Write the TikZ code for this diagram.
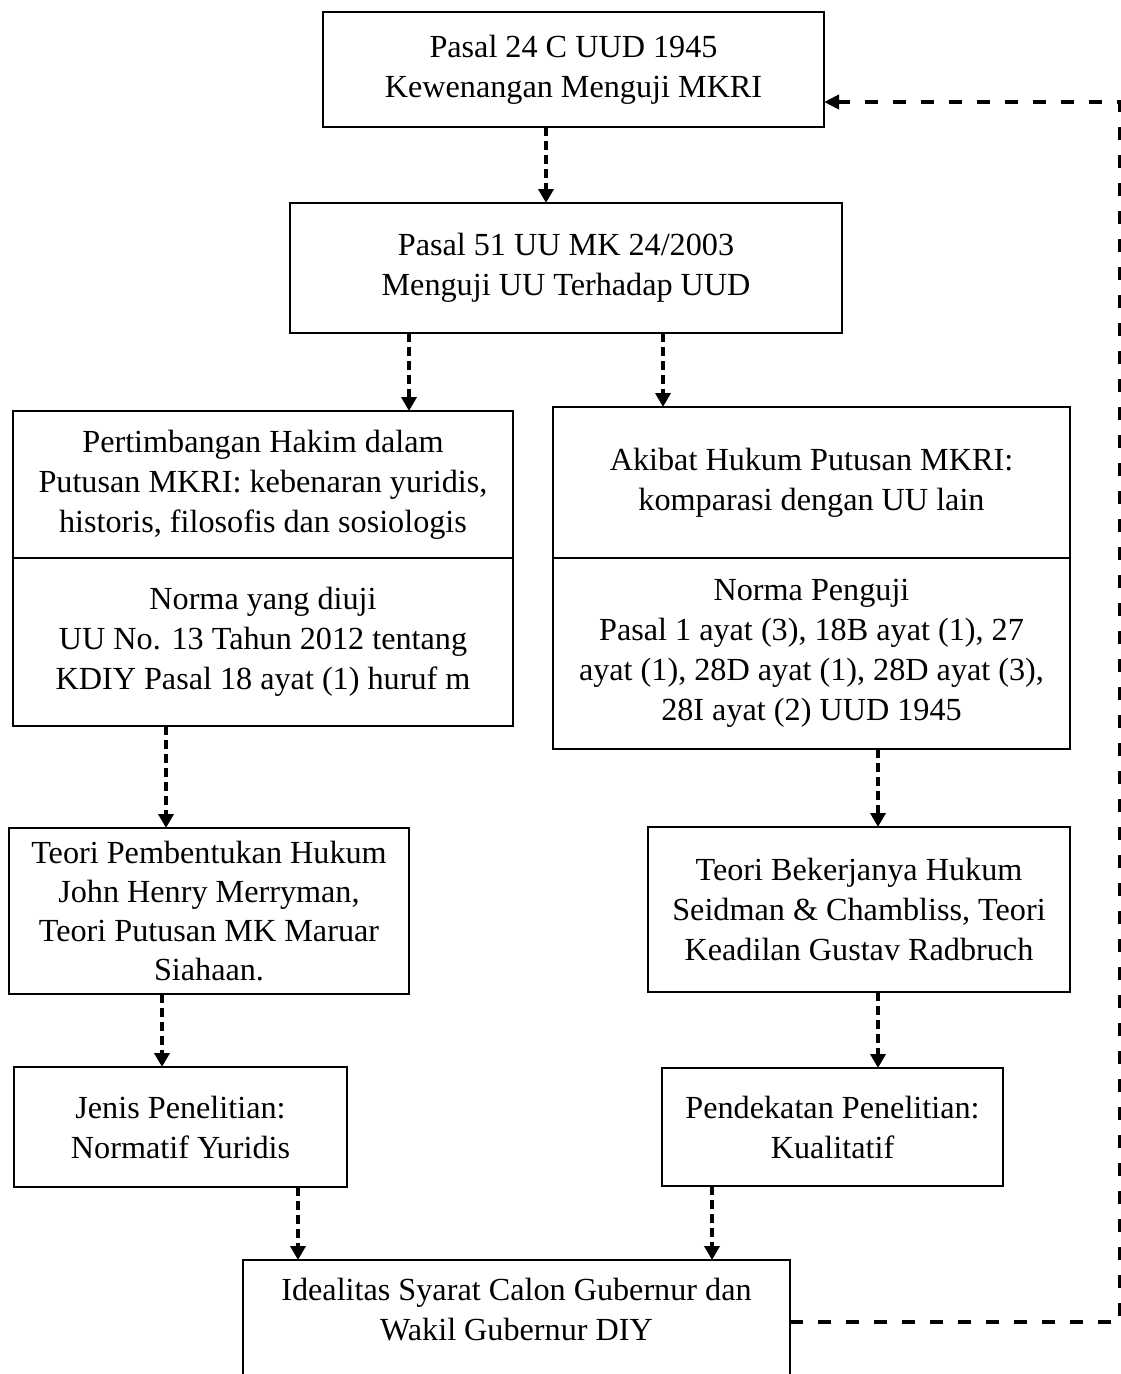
\documentclass[tikz,border=0pt]{standalone}
\usepackage{fontspec}
\setmainfont{Liberation Serif}
\usetikzlibrary{arrows.meta,positioning}

\begin{document}
\begin{tikzpicture}[
  x=1pt, y=-1pt,
  font=\fontsize{32.2}{40}\selectfont,
  box/.style={draw, line width=2pt, align=center, inner sep=0pt, outer sep=0pt},
  flow/.style={-{Triangle[length=14pt,width=15pt]}, line width=4pt, dash pattern=on 9pt off 5pt},
  back/.style={-{Triangle[length=15pt,width=14pt]}, line width=4pt, dash pattern=on 13pt off 15pt}
]
\useasboundingbox (0,0) rectangle (1121,1374);

\node[box, minimum width=501pt, minimum height=115pt] (pasal24) at (573.5,69.5) {Pasal 24 C UUD 1945\\Kewenangan Menguji MKRI};
\node[box, minimum width=552pt, minimum height=130pt] (pasal51) at (566,268) {Pasal 51 UU MK 24/2003\\Menguji UU Terhadap UUD};

% left column
\node[box, minimum width=500pt, minimum height=147pt] (hakim) at (263,484.5) {Pertimbangan Hakim dalam\\Putusan MKRI: kebenaran yuridis,\\historis, filosofis dan sosiologis};
\node[box, minimum width=500pt, minimum height=168pt, below=0pt of hakim] (diuji) {Norma yang diuji\\UU No. 13 Tahun 2012 tentang\\KDIY Pasal 18 ayat (1) huruf m};
\node[box, minimum width=400pt, minimum height=166pt, font=\fontsize{32.2}{39}\selectfont] (merryman) at (209,911) {Teori Pembentukan Hukum\\John Henry Merryman,\\Teori Putusan MK Maruar\\Siahaan.};
\node[box, minimum width=333pt, minimum height=120pt] (jenis) at (180.5,1127) {Jenis Penelitian:\\Normatif Yuridis};

% right column
\node[box, minimum width=517pt, minimum height=151pt] (akibat) at (811.5,482.5) {Akibat Hukum Putusan MKRI:\\komparasi dengan UU lain};
\node[box, minimum width=517pt, minimum height=191pt, below=0pt of akibat] (penguji) {Norma Penguji\\Pasal 1 ayat (3), 18B ayat (1), 27\\ayat (1), 28D ayat (1), 28D ayat (3),\\28I ayat (2) UUD 1945};
\node[box, minimum width=422pt, minimum height=165pt] (seidman) at (859,909.5) {Teori Bekerjanya Hukum\\Seidman \& Chambliss, Teori\\Keadilan Gustav Radbruch};
\node[box, minimum width=341pt, minimum height=118pt] (pendekatan) at (832.5,1127) {Pendekatan Penelitian:\\Kualitatif};

\node[box, minimum width=547pt, minimum height=150pt] (idealitas) at (516.5,1335) {Idealitas Syarat Calon Gubernur dan\\Wakil Gubernur DIY\\\strut};

\coordinate (rail) at (1120,102);

\draw[flow] ([xshift=-27.5pt]pasal24.south) -- ([xshift=-27.5pt]pasal24.south |- pasal51.north);
\draw[flow] ([xshift=-157pt]pasal51.south) -- ([xshift=-157pt]pasal51.south |- hakim.north);
\draw[flow] ([xshift=97pt]pasal51.south) -- ([xshift=97pt]pasal51.south |- akibat.north);
\draw[flow] ([xshift=-97pt]diuji.south) -- ([xshift=-97pt]diuji.south |- merryman.north);
\draw[flow] ([xshift=66.5pt]penguji.south) -- ([xshift=66.5pt]penguji.south |- seidman.north);
\draw[flow] ([xshift=-47pt]merryman.south) -- ([xshift=-47pt]merryman.south |- jenis.north);
\draw[flow] ([xshift=19pt]seidman.south) -- ([xshift=19pt]seidman.south |- pendekatan.north);
\draw[flow] ([xshift=117.5pt]jenis.south) -- ([xshift=117.5pt]jenis.south |- idealitas.north);
\draw[flow] ([xshift=-120.5pt]pendekatan.south) -- ([xshift=-120.5pt]pendekatan.south |- idealitas.north);

% feedback to the top
\draw[back] ([yshift=13.5pt]idealitas.east) -| (rail) -- ([yshift=-32.5pt]pasal24.east);
\end{tikzpicture}
\end{document}
